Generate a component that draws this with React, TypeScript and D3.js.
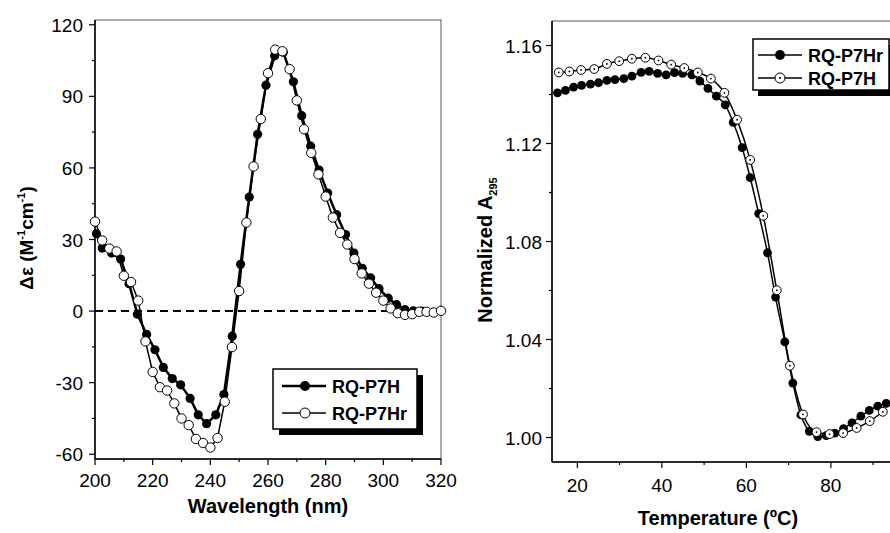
import React from "react";
import * as d3 from "d3";

// CD spectra (left panel)
const cdWavelengthP7H = [200.5, 202.5, 205.8, 208.9, 211.8, 214.7, 217.9, 220.8, 223.7, 226.8, 229.7, 233.0, 235.8, 238.7, 241.9, 244.7, 247.6, 250.5, 253.5, 256.4, 259.3, 262.3, 265.3, 268.8, 271.7, 274.8, 277.7, 280.7, 283.8, 286.9, 289.8, 292.7, 295.6, 298.5, 301.7, 304.6, 307.5, 310.4, 313.3];
const cdP7H = [32.4, 26.4, 24.3, 21.8, 11.5, -1.3, -9.8, -16.2, -23.6, -28.3, -30.9, -36.6, -43.5, -47.2, -43.5, -35, -10.5, 19.6, 47.8, 74.1, 94.7, 107, 108.5, 96.1, 81.9, 69.1, 59.1, 49.5, 40.4, 32.1, 24.3, 17.9, 13.9, 9.4, 5.4, 2.7, 0.6, 0.1, 0];
const cdWavelengthP7Hr = [200, 202.5, 205, 207.5, 210, 212.5, 215, 217.5, 220, 222.5, 225, 227.5, 230, 232.5, 235, 237.5, 240, 242.5, 245, 247.5, 250, 252.5, 255, 257.5, 260, 262.5, 265, 267.5, 270, 272.5, 275, 277.5, 280, 282.5, 285, 287.5, 290, 292.5, 295, 297.5, 300, 302.5, 305, 307.5, 310, 312.5, 315, 317.5, 320];
const cdP7Hr = [37.5, 29.6, 26.2, 25.0, 14.8, 12.2, 4.4, -12.7, -25.5, -31.9, -33.3, -38.7, -45, -47.8, -53.6, -55.3, -57.2, -53.2, -38, -15.1, 8.4, 37.1, 60.6, 80.5, 99.7, 109.6, 108.9, 101.4, 88.3, 76.2, 66.3, 57.3, 48.0, 39.2, 32.8, 27.9, 21.8, 15.8, 11.5, 7.7, 4.4, 1.1, -0.9, -1.6, -1.3, -0.3, -0.3, -0.6, 0.1];
const cdXTicks = [200, 220, 240, 260, 280, 300, 320];
const cdXMinor = [210, 230, 250, 270, 290, 310];
const cdYTicks = [-60, -30, 0, 30, 60, 90, 120];
const cdYMinor = [-45, -15, 15, 45, 75, 105];

// thermal melting (right panel)
const tempP7Hr = [15.3, 17.2, 19.1, 21, 23.1, 25, 27, 28.9, 31, 32.9, 35.1, 37, 39, 41, 43, 44.9, 47.1, 49, 50.9, 52.9, 55, 56.9, 59, 60.9, 62.9, 65, 66.9, 69.1, 71, 72.9, 74.9, 76.9, 78.9, 80.9, 83, 85, 87.1, 89.1, 91.1, 93.1];
const absP7Hr = [1.1407, 1.1417, 1.143, 1.1437, 1.1442, 1.1448, 1.1458, 1.1461, 1.1465, 1.1475, 1.149, 1.1494, 1.1486, 1.148, 1.1489, 1.1486, 1.148, 1.1455, 1.1425, 1.1393, 1.1358, 1.1286, 1.1183, 1.1061, 1.0914, 1.0754, 1.0573, 1.039, 1.0222, 1.0092, 1.0025, 1.0004, 1.0008, 1.0018, 1.0036, 1.006, 1.0087, 1.0111, 1.0128, 1.0139];
const tempP7H = [15.6, 18.1, 20.9, 24, 27, 29.9, 32.9, 36.1, 39.2, 42.2, 45.3, 48.5, 51.6, 54.8, 57.8, 60.9, 64, 67.2, 70.3, 73.4, 76.6, 79.7, 82.9, 86.1, 89.2, 92.3];
const absP7H = [1.149, 1.1494, 1.15, 1.1504, 1.1525, 1.1536, 1.1546, 1.155, 1.1539, 1.1522, 1.1508, 1.149, 1.1465, 1.1407, 1.1297, 1.1133, 1.0905, 1.0601, 1.0293, 1.0094, 1.0022, 1.0014, 1.0018, 1.0039, 1.0067, 1.0105];
const meltXTicks = [20, 40, 60, 80];
const meltXMinor = [30, 50, 70, 90];
const meltYTicks = [1.0, 1.04, 1.08, 1.12, 1.16];
const meltYMinor = [1.02, 1.06, 1.1, 1.14];

const FONT = "Arial, 'Liberation Sans', Helvetica, sans-serif";

function zip(xs: number[], ys: number[]) {
  return xs.map((x, i) => [x, ys[i]] as [number, number]);
}

const App = () => {
  // left panel scales
  const cx = d3.scaleLinear().domain([200, 320]).range([95, 441]);
  const cy = d3.scaleLinear().domain([-62, 122]).range([459, 20]);
  // right panel scales
  const mx = d3.scaleLinear().domain([14, 97]).range([552, 902.7]);
  const my = d3.scaleLinear().domain([0.99, 1.17]).range([462, 21]);

  const cdLine = d3.line<[number, number]>().x((d) => cx(d[0])).y((d) => cy(d[1]));
  const meltLine = d3
    .line<[number, number]>()
    .x((d) => mx(d[0]))
    .y((d) => my(d[1]))
    .curve(d3.curveMonotoneX);

  const cdH = zip(cdWavelengthP7H, cdP7H);
  const cdHr = zip(cdWavelengthP7Hr, cdP7Hr);
  const mHr = zip(tempP7Hr, absP7Hr);
  const mH = zip(tempP7H, absP7H);

  const [cx0, cx1] = cx.range();
  const [cyB, cyT] = cy.range();
  const [mx0, mx1] = mx.range();
  const [myB, myT] = my.range();

  return (
    <svg
      width={890}
      height={533}
      style={{ position: "absolute", left: 0, top: 0, background: "#fff" }}
      fontFamily={FONT}
    >
      {/* ---------- left panel ---------- */}
      <rect x={cx0} y={cyT} width={cx1 - cx0} height={cyB - cyT} fill="none" stroke="#555" strokeWidth={1} />
      <line x1={cx0} x2={cx0} y1={cyT} y2={cyB} stroke="#000" strokeWidth={1.5} />
      <line x1={cx0} x2={cx1} y1={cyB} y2={cyB} stroke="#000" strokeWidth={1.5} />
      {cdXTicks.map((t) => (
        <g key={"cxt" + t}>
          <line x1={cx(t)} x2={cx(t)} y1={cyB} y2={cyB + 6} stroke="#000" strokeWidth={1.2} />
          <text x={cx(t)} y={487} fontSize={19} textAnchor="middle">{t}</text>
        </g>
      ))}
      {cdXMinor.map((t) => (
        <line key={"cxm" + t} x1={cx(t)} x2={cx(t)} y1={cyB} y2={cyB + 3} stroke="#000" strokeWidth={1.2} />
      ))}
      {cdYTicks.map((t) => (
        <g key={"cyt" + t}>
          <line x1={cx0 - 6} x2={cx0} y1={cy(t)} y2={cy(t)} stroke="#000" strokeWidth={1.2} />
          <text x={83} y={cy(t) + 7} fontSize={19} textAnchor="end">{t}</text>
        </g>
      ))}
      {cdYMinor.map((t) => (
        <line key={"cym" + t} x1={cx0 - 3} x2={cx0} y1={cy(t)} y2={cy(t)} stroke="#000" strokeWidth={1.2} />
      ))}
      <line x1={cx0} x2={cx1} y1={cy(0)} y2={cy(0)} stroke="#000" strokeWidth={2} strokeDasharray="8,5" />

      <path d={cdLine(cdH) || ""} fill="none" stroke="#000" strokeWidth={2.5} />
      <path d={cdLine(cdHr) || ""} fill="none" stroke="#000" strokeWidth={1.5} />
      {cdH.map((d, i) => (
        <circle key={"ch" + i} cx={cx(d[0])} cy={cy(d[1])} r={4.6} fill="#000" />
      ))}
      {cdHr.map((d, i) => (
        <circle key={"chr" + i} cx={cx(d[0])} cy={cy(d[1])} r={4.7} fill="#fff" stroke="#000" strokeWidth={1} />
      ))}

      <text x={268} y={513} fontSize={20} fontWeight="bold" textAnchor="middle">Wavelength (nm)</text>
      <text transform="translate(33,238) rotate(-90)" fontSize={19} fontWeight="bold" textAnchor="middle">
        Δε (M
        <tspan fontSize={11} dy={-8}>-1</tspan>
        <tspan dy={8}>cm</tspan>
        <tspan fontSize={11} dy={-8}>-1</tspan>
        <tspan dy={8}>)</tspan>
      </text>

      {/* left legend */}
      <rect x={279} y={375} width={144} height={60} fill="#000" />
      <rect x={273} y={369} width={144} height={60} fill="#fff" stroke="#000" strokeWidth={1.5} />
      <line x1={282} x2={326} y1={386} y2={386} stroke="#000" strokeWidth={2.5} />
      <circle cx={305} cy={386} r={5} fill="#000" />
      <text x={332} y={393} fontSize={18} fontWeight="bold">RQ-P7H</text>
      <line x1={282} x2={326} y1={413} y2={413} stroke="#000" strokeWidth={1.5} />
      <circle cx={305} cy={413} r={5} fill="#fff" stroke="#000" strokeWidth={1} />
      <text x={332} y={420} fontSize={18} fontWeight="bold">RQ-P7Hr</text>

      {/* ---------- right panel ---------- */}
      <rect x={mx0} y={myT} width={mx1 - mx0} height={myB - myT} fill="none" stroke="#555" strokeWidth={1} />
      <line x1={mx0} x2={mx0} y1={myT} y2={myB} stroke="#000" strokeWidth={1.5} />
      <line x1={mx0} x2={mx1} y1={myB} y2={myB} stroke="#000" strokeWidth={1.5} />
      {meltXTicks.map((t) => (
        <g key={"mxt" + t}>
          <line x1={mx(t)} x2={mx(t)} y1={myB} y2={myB + 6} stroke="#000" strokeWidth={1.2} />
          <text x={mx(t)} y={492} fontSize={19} textAnchor="middle">{t}</text>
        </g>
      ))}
      {meltXMinor.map((t) => (
        <line key={"mxm" + t} x1={mx(t)} x2={mx(t)} y1={myB} y2={myB + 3} stroke="#000" strokeWidth={1.2} />
      ))}
      {meltYTicks.map((t) => (
        <g key={"myt" + t}>
          <line x1={mx0 - 6} x2={mx0} y1={my(t)} y2={my(t)} stroke="#000" strokeWidth={1.2} />
          <text x={542} y={my(t) + 7} fontSize={19} textAnchor="end">{t.toFixed(2)}</text>
        </g>
      ))}
      {meltYMinor.map((t) => (
        <line key={"mym" + t} x1={mx0 - 3} x2={mx0} y1={my(t)} y2={my(t)} stroke="#000" strokeWidth={1.2} />
      ))}

      <path d={meltLine(mHr) || ""} fill="none" stroke="#000" strokeWidth={1.5} />
      <path d={meltLine(mH) || ""} fill="none" stroke="#000" strokeWidth={1.5} />
      {mHr.map((d, i) => (
        <circle key={"mhr" + i} cx={mx(d[0])} cy={my(d[1])} r={4.4} fill="#000" />
      ))}
      {mH.map((d, i) => (
        <g key={"mh" + i}>
          <circle cx={mx(d[0])} cy={my(d[1])} r={4.4} fill="#fff" stroke="#000" strokeWidth={1} />
          <circle cx={mx(d[0])} cy={my(d[1])} r={0.9} fill="#000" />
        </g>
      ))}

      <text x={718} y={525} fontSize={20} fontWeight="bold" textAnchor="middle">Temperature (ºC)</text>
      <text transform="translate(492,250) rotate(-90)" fontSize={20} fontWeight="bold" textAnchor="middle">
        Normalized A<tspan fontSize={11} dy={5}>295</tspan>
      </text>

      {/* right legend */}
      <rect x={758} y={45} width={136} height={51} fill="#000" />
      <rect x={753} y={39} width={136} height={51} fill="#fff" stroke="#000" strokeWidth={1.5} />
      <line x1={758} x2={802} y1={55} y2={55} stroke="#000" strokeWidth={1.5} />
      <circle cx={780} cy={55} r={5} fill="#000" />
      <text x={808} y={62} fontSize={18} fontWeight="bold">RQ-P7Hr</text>
      <line x1={758} x2={802} y1={78} y2={78} stroke="#000" strokeWidth={1.5} />
      <circle cx={780} cy={78} r={5} fill="#fff" stroke="#000" strokeWidth={1} />
      <circle cx={780} cy={78} r={1} fill="#000" />
      <text x={808} y={85} fontSize={18} fontWeight="bold">RQ-P7H</text>
    </svg>
  );
};

export default App;
